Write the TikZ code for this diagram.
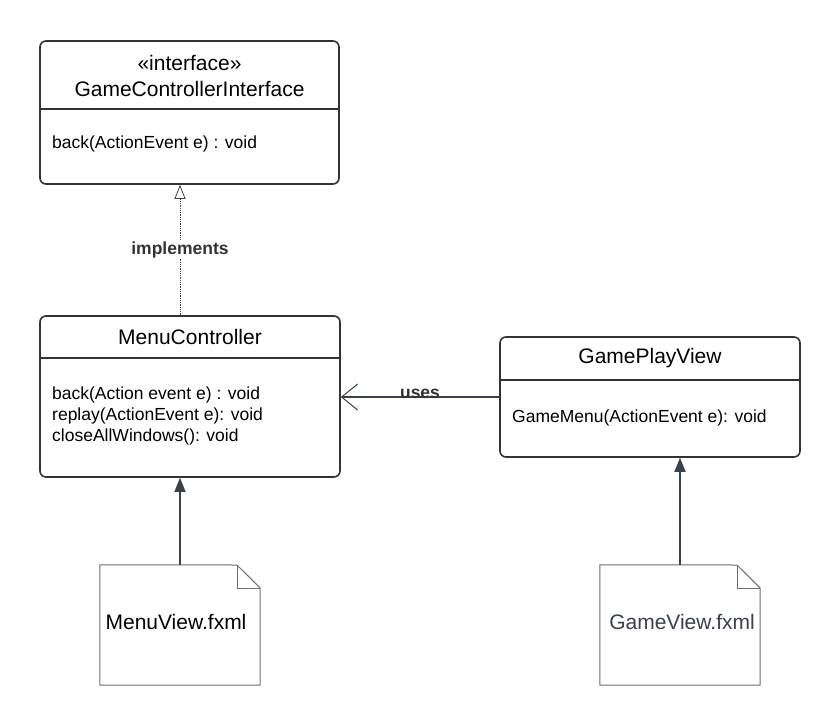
\documentclass[tikz,border=0pt]{standalone}
\usepackage{fontspec}
\setmainfont{Liberation Sans}
\usetikzlibrary{arrows.meta,calc}
\definecolor{edge}{HTML}{333333}
\definecolor{arr}{HTML}{3A414A}
\definecolor{notec}{HTML}{6E6E6E}
\definecolor{slate}{HTML}{3A414A}
\tikzset{
  cls/.style={draw=edge, line width=1.6pt, rounded corners=6pt, inner sep=0pt, fill=white},
  title/.style={font=\fontsize{21}{24}\selectfont, text=black, inner sep=0pt},
  meth/.style={font=\fontsize{17.5}{21}\selectfont, text=black, inner sep=0pt, anchor=west, align=left},
  divider/.style={draw=edge, line width=1.6pt},
  impl/.style={draw=gray!70, densely dotted, line width=0.8pt, -{Triangle[open,length=14pt,width=11pt]}, arr},
  dep/.style={draw=arr, line width=1.3pt, -{Triangle[length=14pt,width=11pt]}},
  uses/.style={draw=arr, line width=1.3pt, -{Straight Barb[length=16pt,width=26pt,line width=1pt]}},
  lbl/.style={font=\fontsize{17.5}{20}\selectfont\bfseries, text=edge, fill=white, inner sep=1pt},
  notebox/.style={inner sep=0pt},
  noteline/.style={draw=notec, line width=1pt},
  notetxt/.style={font=\fontsize{21}{24}\selectfont, inner sep=0pt},
}
\begin{document}
\begin{tikzpicture}[x=1pt,y=-1pt]
\useasboundingbox[fill=white] (0,0) rectangle (840,725);

% GameControllerInterface
\node[cls, minimum width=299pt, minimum height=143pt] (gci) at (189.5,112.5) {};
\draw[divider] (40,109) -- (339,109);
\node[title] (gcis) at (189.5,63) {«interface»};
\node[title] (gcit) at (189.5,89) {GameControllerInterface};
\node[meth] (gcim) at (52,144) {back(ActionEvent e) : void};

% MenuController
\node[cls, minimum width=300pt, minimum height=161pt] (mc) at (190,396.5) {};
\draw[divider] (40,358) -- (340,358);
\node[title] (mct) at (190,337) {MenuController};
\node[meth] (mcm) at (52,416) {back(Action event e) : void\\replay(ActionEvent e): void\\closeAllWindows(): void};

% GamePlayView
\node[cls, minimum width=300pt, minimum height=120pt] (gpv) at (650,397) {};
\draw[divider] (500,380) -- (800,380);
\node[title] (gpvt) at (650,358) {GamePlayView};
\node[meth] (gpvm) at (512,418) {GameMenu(ActionEvent e): void};

% Notes
\node[notebox, minimum width=160pt, minimum height=120pt] (mv) at (180,625) {};
\draw[noteline] (mv.north west) -- (237,565) -- (mv.north east |- 0,588) -- (mv.south east) -- (mv.south west) -- cycle;
\draw[noteline] (237,565) -- (237,588) -- (mv.north east |- 0,588);
\node[notetxt] (mvt) at (176,622) {MenuView.fxml};

\node[notebox, minimum width=160pt, minimum height=120pt] (gv) at (680,625) {};
\draw[noteline] (gv.north west) -- (737,565) -- (gv.north east |- 0,588) -- (gv.south east) -- (gv.south west) -- cycle;
\draw[noteline] (737,565) -- (737,588) -- (gv.north east |- 0,588);
\node[notetxt, text=slate] (gvt) at (682,622) {GameView.fxml};

% Connectors
\coordinate (implS) at ($(mc.north)+(-10,0)$);
\coordinate (implE) at (implS |- gci.south);
\draw[impl] (implS) -- node[lbl, pos=0.5] {implements} (implE);
\draw[uses] (gpv.west) -- node[lbl, pos=0.5, yshift=3pt, fill=none] {uses} (mc.east |- gpv.west);
\draw[dep] (mv.north) -- (mv.north |- mc.south);
\draw[dep] (gv.north) -- (gv.north |- gpv.south);
\end{tikzpicture}
\end{document}
